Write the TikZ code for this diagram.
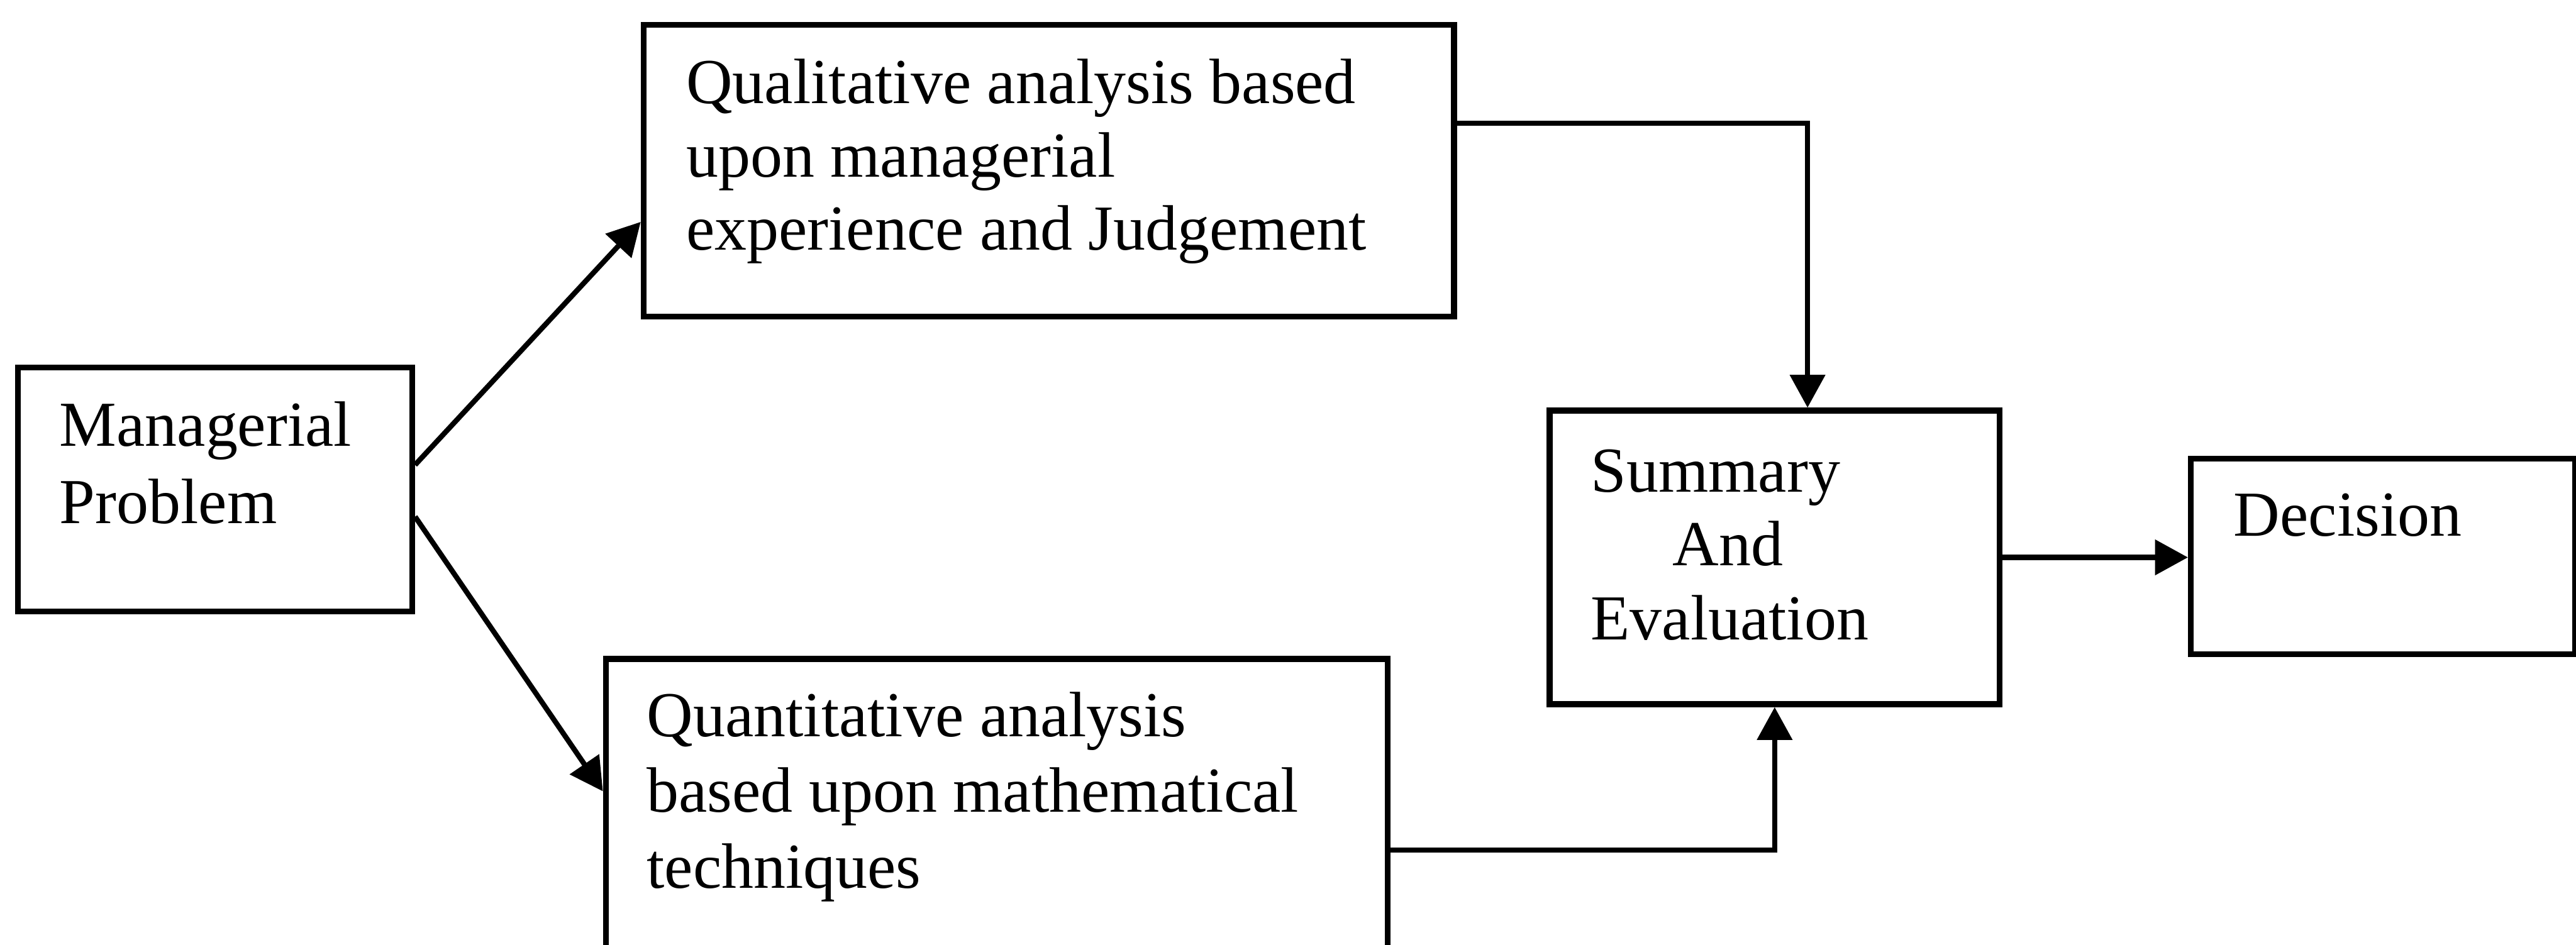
\documentclass[tikz,border=0pt]{standalone}
\usepackage{fontspec}
\setmainfont{Liberation Serif}
\usetikzlibrary{arrows.meta}
% stacked lines with a fixed baseline distance; the baseline of the stack is its first line
\newcommand{\linestack}[2]{\vtop{\baselineskip=#1\relax #2}}
\begin{document}
\begin{tikzpicture}[x=0.01cm,y=-0.01cm,
  box/.style={draw, line width=1pt, inner sep=0pt, anchor=north west},
  txt/.style={anchor=base west, inner sep=0pt, font=\fontsize{11.1}{12.8}\selectfont},
  link/.style={line width=0.9pt, -{Triangle[length=2mm,width=2.1mm]}}]
\clip (0,0) rectangle (1568,575);
\fill[white] (0,0) rectangle (1568,575);

% boxes
\node[box, minimum width=2.40cm, minimum height=1.485cm] (mp) at (9,222) {};
\node[box, minimum width=4.93cm, minimum height=1.775cm] (qual) at (390,13.5) {};
\node[box, minimum width=4.755cm, minimum height=1.766cm] (quant) at (367,399.4) {};
\node[box, minimum width=2.738cm, minimum height=1.787cm] (sum) at (941.5,248.2) {};
\node[box, minimum width=2.338cm, minimum height=1.19cm] (dec) at (1331.8,277.6) {};

% texts
\node[txt] (mp-text) at (35.6,271.6) {\linestack{13.37pt}{\hbox{Managerial}\hbox{Problem}}};
\node[txt] (qual-text) at (417,63) {\linestack{12.69pt}{\hbox{Qualitative analysis based}\hbox{upon managerial}\hbox{experience and Judgement}}};
\node[txt] (quant-text) at (393,448.5) {\linestack{13.09pt}{\hbox{Quantitative analysis}\hbox{based upon mathematical}\hbox{techniques}}};
\node[txt] (sum-text) at (967.6,299.5) {\linestack{12.8pt}{\hbox{Summary}\hbox{\kern14.2pt And}\hbox{Evaluation}}};
\node[txt] (dec-text) at (1359,326.4) {Decision};

% connectors
\draw[link] ([yshift=0.15cm]mp.east) -- ([yshift=-0.31cm]qual.west);
\draw[link] ([yshift=-0.165cm]mp.east) -- ([yshift=0.077cm]quant.west);
\draw[link] ([yshift=0.29cm]qual.east) -| ([xshift=0.2cm]sum.north);
\draw[link] ([yshift=-0.28cm]quant.east) -| (sum.south);
\draw[link] (sum.east) -- (sum.east -| dec.west);
\end{tikzpicture}
\end{document}
